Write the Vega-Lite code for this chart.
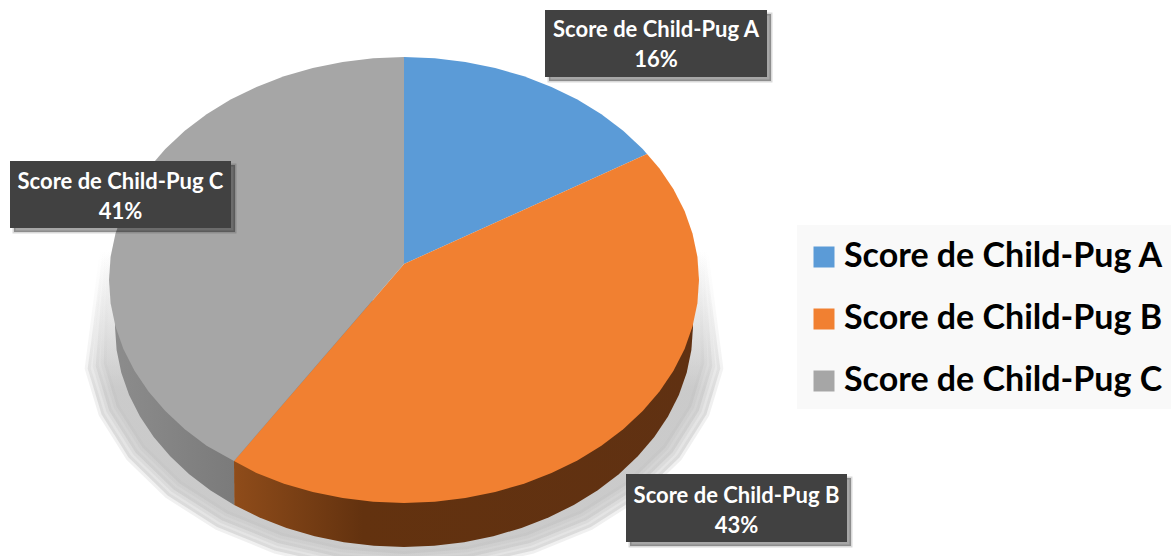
{
  "$schema": "https://vega.github.io/schema/vega-lite/v6.json",
  "width": 1171,
  "height": 556,
  "padding": 0,
  "autosize": {"type": "none"},
  "background": "#ffffff",
  "view": {"stroke": null},
  "projection": {"type": "identity", "scale": 1, "translate": [0, 0]},
  "config": {"font": "Lato"},
  "datasets": {
    "halos": [
      {"ring": "outer", "geometry": {"type": "Polygon", "coordinates": [[[103,250],[705,250],[720.3,368.5],[706.4,414.5],[679.4,457.5],[640.3,495.5],[590.9,527],[533.3,550.5],[470.1,565.1],[404,570],[337.9,565.1],[274.7,550.5],[217.1,527],[167.7,495.5],[128.6,457.5],[101.6,414.5],[87.7,368.5],[103,250]]]}},
      {"ring": "middle", "geometry": {"type": "Polygon", "coordinates": [[[105,250],[703,250],[712.3,365.9],[698.8,410.7],[672.5,452.5],[634.4,489.5],[586.2,520.2],[530.1,543],[468.4,557.2],[404,562],[339.6,557.2],[277.9,543],[221.8,520.2],[173.6,489.5],[135.5,452.5],[109.2,410.7],[95.7,365.9],[105,250]]]}},
      {"ring": "inner", "geometry": {"type": "Polygon", "coordinates": [[[107,250],[701,250],[704.3,363.3],[691.2,406.8],[665.5,447.5],[628.4,483.5],[581.5,513.3],[526.8,535.6],[466.8,549.3],[404,554],[341.2,549.3],[281.2,535.6],[226.5,513.3],[179.6,483.5],[142.5,447.5],[116.8,406.8],[103.7,363.3],[107,250]]]}}
    ],
    "wallB": [
      {"slice": "Score de Child-Pug B", "geometry": {"type": "Polygon", "coordinates": [[[691.4,304],[693,327],[691.4,350],[686.7,372.7],[678.9,395],[668,416.5],[654.3,437],[637.8,456.3],[618.8,474.2],[597.4,490.5],[573.8,505],[548.5,517.5],[521.5,528],[493.3,536.2],[464.1,542.2],[434.2,545.8],[404,547],[373.8,545.8],[343.9,542.2],[314.7,536.2],[286.5,528],[259.5,517.5],[234.2,505],[234,461],[404,300],[691.4,304]]]}}
    ],
    "wallC": [
      {"slice": "Score de Child-Pug C", "geometry": {"type": "Polygon", "coordinates": [[[234.2,505],[210.6,490.5],[189.2,474.2],[170.2,456.3],[153.7,437],[140,416.5],[129.1,395],[121.3,372.7],[116.6,350],[115,327],[116.6,304],[404,300],[234,461],[234.2,505]]]}}
    ],
    "slices": [
      {"slice": "Score de Child-Pug A", "share": 16, "geometry": {"type": "Polygon", "coordinates": [[[404,264],[404,57],[434.8,58.2],[465.3,61.9],[495.2,67.9],[524,76.3],[551.5,86.9],[577.4,99.6],[601.4,114.3],[623.2,130.8],[642.7,148.9],[647,154],[404,264]]]}},
      {"slice": "Score de Child-Pug B", "share": 43, "geometry": {"type": "Polygon", "coordinates": [[[404,264],[647,154],[659.5,168.5],[673.5,189.3],[684.6,211.1],[692.5,233.6],[697.4,256.7],[699,280],[697.4,303.3],[692.5,326.4],[684.6,348.9],[673.5,370.7],[659.5,391.5],[642.7,411.1],[623.2,429.2],[601.4,445.7],[577.4,460.4],[551.5,473.1],[524,483.7],[495.2,492.1],[465.3,498.1],[434.8,501.8],[404,503],[373.2,501.8],[342.7,498.1],[312.8,492.1],[284,483.7],[256.5,473.1],[234,461],[404,264]]]}},
      {"slice": "Score de Child-Pug C", "share": 41, "geometry": {"type": "Polygon", "coordinates": [[[404,264],[234,461],[206.6,445.7],[184.8,429.2],[165.3,411.1],[148.5,391.5],[134.5,370.7],[123.4,348.9],[115.5,326.4],[110.6,303.3],[109,280],[110.6,256.7],[115.5,233.6],[123.4,211.1],[134.5,189.3],[148.5,168.5],[165.3,148.9],[184.8,130.8],[206.6,114.3],[230.6,99.6],[256.5,86.9],[284,76.3],[312.8,67.9],[342.7,61.9],[373.2,58.2],[404,57],[404,264]]]}}
    ],
    "legendPanel": [
      {"geometry": {"type": "Polygon", "coordinates": [[[797,225],[1171,225],[1171,409],[797,409],[797,225]]]}}
    ],
    "boxShadows": [
      {"slice": "Score de Child-Pug A", "geometry": {"type": "Polygon", "coordinates": [[[549,14],[771,14],[771,81],[549,81],[549,14]]]}},
      {"slice": "Score de Child-Pug B", "geometry": {"type": "Polygon", "coordinates": [[[630,478],[851,478],[851,546],[630,546],[630,478]]]}},
      {"slice": "Score de Child-Pug C", "geometry": {"type": "Polygon", "coordinates": [[[14,165],[235,165],[235,232],[14,232],[14,165]]]}}
    ],
    "boxes": [
      {"slice": "Score de Child-Pug A", "geometry": {"type": "Polygon", "coordinates": [[[545,10],[767,10],[767,77],[545,77],[545,10]]]}},
      {"slice": "Score de Child-Pug B", "geometry": {"type": "Polygon", "coordinates": [[[626,474],[847,474],[847,542],[626,542],[626,474]]]}},
      {"slice": "Score de Child-Pug C", "geometry": {"type": "Polygon", "coordinates": [[[10,161],[231,161],[231,228],[10,228],[10,161]]]}}
    ],
    "labels": [
      {"label": "Score de Child-Pug A\n16%", "lon": 656, "lat": 30},
      {"label": "Score de Child-Pug B\n43%", "lon": 736.5, "lat": 496},
      {"label": "Score de Child-Pug C\n41%", "lon": 120.5, "lat": 182}
    ]
  },
  "layer": [
    {
      "data": {"name": "legendPanel"},
      "mark": {"type": "geoshape", "fill": "#f9f9f9"},
      "encoding": {"shape": {"field": "geometry", "type": "geojson"}}
    },
    {
      "data": {"name": "halos"},
      "mark": {
        "type": "geoshape",
        "fillOpacity": 0.4,
        "strokeOpacity": 0.22,
        "strokeWidth": 6,
        "strokeJoin": "round",
        "fill": {
          "gradient": "linear", "x1": 0, "y1": 0, "x2": 0, "y2": 1,
          "stops": [
            {"offset": 0, "color": "#ffffff"},
            {"offset": 0.45, "color": "#bcbcbc"},
            {"offset": 1, "color": "#bcbcbc"}
          ]
        },
        "stroke": {
          "gradient": "linear", "x1": 0, "y1": 0, "x2": 0, "y2": 1,
          "stops": [
            {"offset": 0, "color": "#ffffff"},
            {"offset": 0.45, "color": "#bcbcbc"},
            {"offset": 1, "color": "#bcbcbc"}
          ]
        }
      },
      "encoding": {"shape": {"field": "geometry", "type": "geojson"}}
    },
    {
      "data": {"name": "wallB"},
      "mark": {
        "type": "geoshape",
        "fill": {
          "gradient": "linear", "x1": 0, "y1": 0, "x2": 1, "y2": 0,
          "stops": [
            {"offset": 0, "color": "#8f4c1a"},
            {"offset": 0.28, "color": "#63320f"},
            {"offset": 1, "color": "#603112"}
          ]
        }
      },
      "encoding": {"shape": {"field": "geometry", "type": "geojson"}}
    },
    {
      "data": {"name": "wallC"},
      "mark": {
        "type": "geoshape",
        "fill": {
          "gradient": "linear", "x1": 0, "y1": 0, "x2": 1, "y2": 0,
          "stops": [
            {"offset": 0, "color": "#8c8c8c"},
            {"offset": 1, "color": "#626262"}
          ]
        }
      },
      "encoding": {"shape": {"field": "geometry", "type": "geojson"}}
    },
    {
      "data": {"name": "slices"},
      "mark": {"type": "geoshape"},
      "encoding": {
        "shape": {"field": "geometry", "type": "geojson"},
        "color": {
          "field": "slice",
          "type": "nominal",
          "scale": {
            "domain": ["Score de Child-Pug A", "Score de Child-Pug B", "Score de Child-Pug C"],
            "range": ["#5b9bd7", "#f18031", "#a6a6a6"]
          },
          "legend": {
            "title": null,
            "orient": "none",
            "legendX": 793,
            "legendY": 226,
            "padding": 14,
            "symbolType": "square",
            "symbolSize": 441,
            "symbolStrokeWidth": 0,
            "labelFont": "Lato",
            "labelFontWeight": "bold",
            "labelFontSize": 34,
            "labelColor": "#000000",
            "labelOffset": 3,
            "labelLimit": 400,
            "rowPadding": 28
          }
        }
      }
    },
    {
      "data": {"name": "boxShadows"},
      "mark": {"type": "geoshape", "fill": "#000000", "fillOpacity": 0.35, "stroke": "#000000", "strokeOpacity": 0.15, "strokeWidth": 3},
      "encoding": {"shape": {"field": "geometry", "type": "geojson"}}
    },
    {
      "data": {"name": "boxes"},
      "mark": {"type": "geoshape", "fill": "#414141"},
      "encoding": {"shape": {"field": "geometry", "type": "geojson"}}
    },
    {
      "data": {"name": "labels"},
      "mark": {
        "type": "text",
        "font": "Lato",
        "fontWeight": "bold",
        "fontSize": 22,
        "color": "#ffffff",
        "align": "center",
        "baseline": "middle",
        "lineBreak": "\n",
        "lineHeight": 30
      },
      "encoding": {
        "longitude": {"field": "lon", "type": "quantitative"},
        "latitude": {"field": "lat", "type": "quantitative"},
        "text": {"field": "label", "type": "nominal"}
      }
    }
  ]
}
